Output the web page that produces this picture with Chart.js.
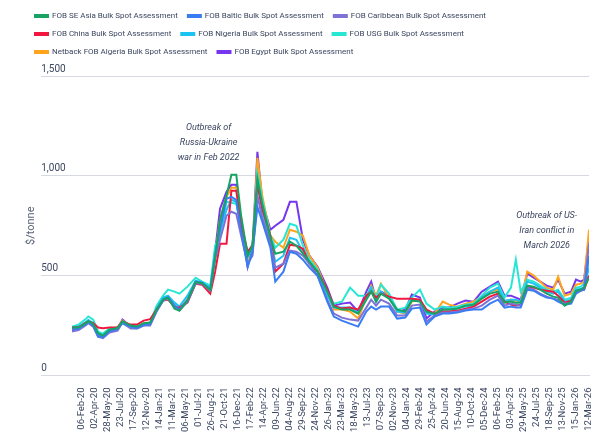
<!DOCTYPE html>
<html>
<head>
<meta charset="utf-8">
<script src="https://cdn.jsdelivr.net/npm/chart.js@4.4.1/dist/chart.umd.min.js"></script>
<style>
    html, body { margin: 0; padding: 0; background: #fff; }
    #wrap { width: 612px; height: 446px; }
</style>
</head>
<body>
<div id="wrap"><canvas id="priceChart"></canvas></div>
<script>
// week number counted from 06-Feb-20 (week 0)
const weeks = [-6, -2, 2, 4, 7, 10, 13, 17, 22, 25, 30, 34, 38, 42, 46, 50, 53, 57, 60, 65,
    70, 74, 79, 82, 85, 89, 92, 95, 98, 102, 105, 108, 111, 116, 119, 124, 128, 132, 136, 140,
    145, 151, 155, 160, 165, 170, 175, 178, 181, 184, 189, 194, 199, 203, 208, 212, 217, 222, 226, 231,
    236, 241, 246, 251, 256, 260, 264, 267, 270, 274, 278, 282, 286, 290, 293, 297, 301, 304, 307, 309, 312];

const tickLabels = ['06-Feb-20', '02-Apr-20', '28-May-20', '23-Jul-20', '17-Sep-20', '12-Nov-20',
    '14-Jan-21', '11-Mar-21', '06-May-21', '01-Jul-21', '26-Aug-21', '21-Oct-21', '16-Dec-21',
    '17-Feb-22', '14-Apr-22', '09-Jun-22', '04-Aug-22', '29-Sep-22', '24-Nov-22', '26-Jan-23',
    '23-Mar-23', '18-May-23', '13-Jul-23', '07-Sep-23', '02-Nov-23', '04-Jan-24', '29-Feb-24',
    '25-Apr-24', '20-Jun-24', '15-Aug-24', '10-Oct-24', '05-Dec-24', '06-Feb-25', '03-Apr-25',
    '29-May-25', '24-Jul-25', '18-Sep-25', '13-Nov-25', '15-Jan-26', '12-Mar-26'];

const seAsia = [240, 240, 260, 272, 258, 212, 200, 230, 238, 272, 250, 245, 262, 265, 328, 380, 390, 335, 325, 375,
    468, 462, 428, 590, 780, 900, 1005, 1005, 800, 600, 650, 985, 860, 690, 610, 620, 670, 650, 610, 570,
    520, 420, 345, 330, 330, 310, 380, 420, 370, 410, 385, 330, 320, 375, 370, 320, 310, 330, 330, 335,
    350, 355, 385, 410, 420, 365, 370, 365, 365, 450, 445, 430, 410, 395, 390, 350, 370, 425, 430, 440, 490];
const baltic = [230, 235, 255, 268, 250, 195, 192, 222, 232, 265, 245, 238, 255, 255, 325, 380, 392, 350, 330, 378,
    470, 465, 430, 600, 735, 885, 895, 880, 720, 545, 620, 845, 770, 640, 470, 520, 620, 610, 580, 540,
    500, 370, 295, 275, 260, 245, 320, 345, 330, 345, 345, 285, 290, 335, 340, 255, 295, 310, 310, 315,
    325, 330, 330, 360, 380, 340, 345, 340, 340, 430, 425, 405, 390, 385, 370, 355, 360, 410, 425, 430, 600];
const caribbean = [220, 228, 250, 262, 245, 195, 187, 215, 225, 265, 235, 235, 250, 250, 320, 375, 385, 345, 325, 370,
    462, 460, 425, 580, 680, 800, 820, 810, 700, 560, 600, 900, 790, 660, 540, 560, 625, 620, 600, 560,
    500, 380, 310, 290, 280, 275, 340, 380, 350, 380, 360, 300, 300, 350, 355, 270, 300, 315, 315, 320,
    330, 335, 350, 380, 400, 350, 360, 355, 350, 440, 430, 410, 395, 385, 380, 360, 365, 420, 430, 440, 660];
const china = [240, 240, 262, 270, 262, 240, 237, 240, 242, 270, 255, 255, 275, 282, 330, 375, 380, 345, 340, 365,
    460, 455, 410, 520, 660, 660, 925, 925, 760, 620, 650, 955, 835, 700, 520, 560, 655, 650, 635, 560,
    520, 430, 350, 335, 340, 330, 400, 420, 390, 410, 395, 385, 385, 385, 380, 330, 310, 320, 320, 325,
    335, 345, 370, 395, 410, 370, 355, 350, 355, 445, 440, 430, 425, 420, 400, 365, 375, 415, 425, 430, 500];
const nigeria = [240, 245, 265, 278, 262, 210, 200, 228, 238, 268, 248, 245, 258, 260, 335, 390, 400, 365, 345, 400,
    475, 465, 440, 620, 720, 830, 880, 870, 720, 590, 640, 970, 820, 680, 570, 600, 690, 680, 620, 560,
    520, 400, 340, 340, 340, 315, 390, 440, 370, 420, 390, 320, 315, 380, 380, 310, 305, 330, 330, 335,
    345, 350, 390, 420, 440, 375, 380, 380, 370, 470, 460, 440, 420, 410, 420, 370, 380, 430, 435, 440, 540];
const usg = [245, 255, 280, 296, 280, 220, 210, 235, 240, 260, 240, 235, 250, 262, 350, 400, 430, 420, 410, 445,
    490, 470, 450, 650, 700, 870, 865, 860, 760, 610, 660, 1010, 880, 700, 640, 680, 760, 750, 650, 580,
    530, 410, 360, 370, 440, 400, 400, 440, 390, 455, 410, 330, 340, 390, 430, 360, 330, 345, 340, 345,
    355, 360, 400, 440, 460, 390, 440, 580, 420, 480, 470, 450, 430, 420, 430, 380, 390, 440, 445, 460, 580];
const algeria = [235, 240, 258, 270, 255, 212, 200, 232, 240, 275, 248, 242, 260, 265, 330, 385, 392, 350, 330, 380,
    468, 462, 428, 600, 780, 895, 940, 940, 780, 570, 610, 1090, 900, 700, 670, 640, 730, 720, 700, 600,
    540, 420, 330, 330, 320, 285, 390, 450, 400, 460, 390, 320, 310, 370, 380, 320, 310, 370, 355, 345,
    360, 370, 395, 420, 430, 370, 380, 375, 370, 520, 500, 470, 440, 430, 495, 400, 410, 455, 460, 470, 730];
const egypt = [225, 232, 252, 265, 250, 205, 200, 228, 236, 280, 245, 238, 258, 262, 330, 385, 395, 352, 332, 380,
    470, 465, 430, 620, 835, 920, 955, 955, 760, 545, 640, 1120, 870, 730, 750, 780, 870, 870, 680, 600,
    545, 440, 350, 360, 365, 320, 420, 470, 380, 420, 400, 320, 330, 405, 390, 285, 320, 340, 340, 360,
    375, 370, 420, 445, 470, 400, 400, 390, 380, 510, 490, 470, 450, 440, 480, 410, 420, 480, 470, 480, 690];

const seriesNames = ['FOB SE Asia Bulk Spot Assessment', 'FOB Baltic Bulk Spot Assessment',
    'FOB Caribbean Bulk Spot Assessment', 'FOB China Bulk Spot Assessment',
    'FOB Nigeria Bulk Spot Assessment', 'FOB USG Bulk Spot Assessment',
    'Netback FOB Algeria Bulk Spot Assessment', 'FOB Egypt Bulk Spot Assessment'];
const seriesValues = [seAsia, baltic, caribbean, china, nigeria, usg, algeria, egypt];
const seriesColors = ['#17a462', '#3a7cf2', '#7f72d6', '#f2173f', '#1cc2f2', '#27e6d4', '#ffa41c', '#7636ee'];

const tickWeeks = tickLabels.map((_, i) => i * 8);
const textColor = '#3b4660';

const datasets = seriesNames.map((name, k) => ({
    label: name,
    data: weeks.map((w, i) => ({ x: w, y: seriesValues[k][i] })),
    borderColor: seriesColors[k],
    backgroundColor: seriesColors[k],
    borderWidth: 2,
    pointRadius: 0,
    tension: 0
}));

// notes written on the chart
const notes = [
    { lines: ['Outbreak of', 'Russia-Ukraine', 'war in Feb 2022'], x: 78, y: 1166 },
    { lines: ['Outbreak of US-', 'Iran conflict in', 'March 2026'], x: 286, y: 725 }
];

const notePlugin = {
    id: 'notes',
    afterDatasetsDraw(chart) {
        const c = chart.ctx;
        const xs = chart.scales.x, ys = chart.scales.y;
        c.save();
        c.font = 'italic 9px Roboto, sans-serif';
        c.fillStyle = textColor;
        c.textAlign = 'center';
        c.textBaseline = 'middle';
        notes.forEach(n => {
            const px = xs.getPixelForValue(n.x);
            const py = ys.getPixelForValue(n.y);
            n.lines.forEach((t, i) => c.fillText(t, px, py + (i - 1) * 15));
        });
        c.restore();
    }
};

// extra room under the legend
const legendGap = {
    id: 'legendGap',
    beforeInit(chart) {
        const fit = chart.legend.fit;
        chart.legend.fit = function () {
            fit.bind(chart.legend)();
            this.height += 10;
        };
    }
};

new Chart(document.getElementById('priceChart'), {
    type: 'line',
    data: { datasets: datasets },
    plugins: [notePlugin, legendGap],
    options: {
        responsive: true,
        maintainAspectRatio: false,
        animation: false,
        layout: { padding: { left: 25, right: 23, top: 2, bottom: 10 } },
        plugins: {
            legend: {
                display: true,
                align: 'start',
                labels: {
                    boxWidth: 13,
                    boxHeight: 2,
                    padding: 10,
                    color: textColor,
                    font: { family: 'Roboto', size: 8 }
                }
            },
            tooltip: { enabled: false }
        },
        scales: {
            x: {
                type: 'linear',
                min: -25,
                max: 312,
                grid: { display: false },
                border: { display: true, color: '#d6d9e1' },
                afterBuildTicks: (scale) => {
                    scale.ticks = tickWeeks.map(v => ({ value: v }));
                },
                ticks: {
                    autoSkip: false,
                    minRotation: 90,
                    maxRotation: 90,
                    padding: 4,
                    color: textColor,
                    font: { family: 'Roboto', size: 9.5 },
                    callback: (v) => tickLabels[tickWeeks.indexOf(v)]
                }
            },
            y: {
                min: 0,
                max: 1500,
                grid: { color: '#d6d9e1', drawTicks: false },
                border: { display: false },
                ticks: {
                    stepSize: 500,
                    mirror: true,
                    padding: 0,
                    labelOffset: -7,
                    color: textColor,
                    font: { family: 'Roboto', size: 10 }
                },
                title: {
                    display: true,
                    text: '$/tonne',
                    color: '#5b6477',
                    padding: { top: 0, bottom: 3 },
                    font: { family: 'Roboto', size: 11 }
                }
            }
        }
    }
});
</script>
</body>
</html>
